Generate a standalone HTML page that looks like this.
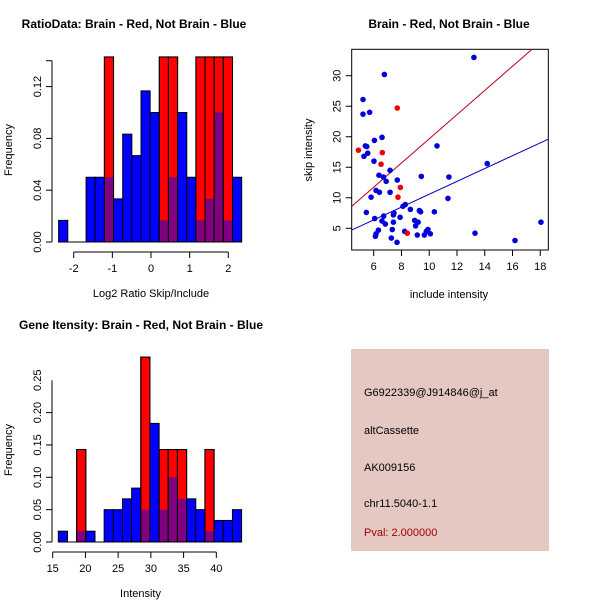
<!DOCTYPE html>
<html><head><meta charset="utf-8"><style>
html,body{margin:0;padding:0;background:#fff}
svg{display:block;font-family:"Liberation Sans",sans-serif}
</style></head><body>
<svg id="s" width="600" height="600" xmlns="http://www.w3.org/2000/svg">
<rect width="600" height="600" fill="#fff"/>
<text x="134" y="28" font-size="12" font-weight="bold" text-anchor="middle">RatioData: Brain - Red, Not Brain - Blue</text>
<text x="449" y="28" font-size="12" font-weight="bold" text-anchor="middle">Brain - Red, Not Brain - Blue</text>
<text x="141" y="329" font-size="12" font-weight="bold" text-anchor="middle">Gene Itensity: Brain - Red, Not Brain - Blue</text>
<g id="g1"></g>
<g id="g2"></g>
<g id="g3"></g>
<g>
<rect x="351" y="349" width="198" height="202" fill="#e6c8c2"/>
<text x="364" y="396" font-size="11">G6922339@J914846@j_at</text>
<text x="364" y="434" font-size="11">altCassette</text>
<text x="364" y="471" font-size="11">AK009156</text>
<text x="364" y="507" font-size="11">chr11.5040-1.1</text>
<text x="364" y="536" font-size="11" fill="#a00000">Pval: 2.000000</text>
</g>
</svg>
<script>
// Ratio histogram data
const ratioStart=-2.39, ratioWidth=0.2368;
const ratioBlue=[0.0167,0,0,0.05,0.05,0.05,0.0333,0.0833,0.0667,0.1167,0.1,0.0167,0.05,0.1,0.05,0.0167,0.0333,0.1,0.0167,0.05];
const ratioRed=[0,0,0,0,0,0.1429,0,0,0,0,0,0.1429,0.1429,0,0,0.1429,0.1429,0.1429,0.1429,0];
const ratioXTicks=[-2,-1,0,1,2];
const ratioYTicks=[0.00,0.04,0.08,0.12];
// Intensity histogram data
const intStart=15.86, intWidth=1.40;
const intBlue=[0.0167,0,0.0167,0.0167,0,0.05,0.05,0.0667,0.0833,0.05,0.1833,0.05,0.1,0.0667,0.0667,0.05,0.0167,0.0333,0.0333,0.05];
const intRed=[0,0,0.1429,0,0,0,0,0,0,0.2857,0,0.1429,0.1429,0.1429,0,0,0.1429,0,0,0];
const intXTicks=[15,20,25,30,35,40];
const intYTicks=[0.00,0.05,0.10,0.15,0.20,0.25];
// Scatter data
const blueX=[13.22,6.77,5.23,5.71,5.23,6.6,6.05,5.4,5.5,10.56,5.57,5.3,6.02,14.18,7.18,6.38,6.7,9.43,11.42,7.7,6.9,6.17,6.41,7.18,5.81,11.35,8.28,8.11,8.64,9.29,9.38,10.37,5.47,7.46,7.42,6.72,7.9,6.07,8.95,9.2,6.6,6.84,7.42,9.02,9.91,9.79,8.23,7.34,6.34,6.17,6.12,7.27,9.14,9.65,10.08,7.68,13.3,16.18,18.05];
const blueY=[33.0,30.2,26.1,24.0,23.7,19.9,19.4,18.5,18.4,18.5,17.3,16.8,16.0,15.6,14.5,13.7,13.4,13.5,13.4,12.9,12.7,11.2,10.9,10.9,10.1,9.9,8.9,8.6,8.1,7.9,7.7,7.7,7.6,7.5,7.2,7.0,6.8,6.6,6.3,6.0,6.2,5.7,6.0,5.4,4.8,4.5,4.5,4.8,4.7,4.1,3.7,3.4,3.9,3.9,4.1,2.7,4.2,3.0,6.0];
const redX=[4.9,7.7,6.62,6.53,7.92,7.75,8.42];
const redY=[17.8,24.7,17.4,15.5,11.7,10.1,4.2];
const redFit=[-0.14,1.98];
const blueFit=[0.06,1.052];
const scXTicks=[6,8,10,12,14,16,18];
const scYTicks=[5,10,15,20,25,30];

const NS="http://www.w3.org/2000/svg";
function mk(parent,tag,attrs){const e=document.createElementNS(NS,tag);for(const k in attrs)e.setAttribute(k,attrs[k]);parent.appendChild(e);return e;}
function fmt2(v){return v.toFixed(2);}

function hist(g,start,width,blue,red,xs,ys,xT,yT,yLabels,xTitle,titleY,axX,axY,lastTick){
  // axes
  mk(g,'line',{x1:axX,y1:ys(yT[0]),x2:axX,y2:ys(lastTick),stroke:'#000'});
  for(const t of yT.concat([lastTick])){
    if(t===lastTick&&yT.indexOf(t)>=0)continue;
    const tk=mk(g,'line',{x1:axX-6,y1:ys(t),x2:axX,y2:ys(t),stroke:'#000'});
    
    
  }
  for(const t of yT){
    const tx=mk(g,'text',{x:0,y:0,'font-size':11,'text-anchor':'middle',transform:`translate(${axX-11},${ys(t)}) rotate(-90)`});
    tx.textContent=fmt2(t);
    
    
  }
  mk(g,'line',{x1:xs(xT[0]),y1:axY,x2:xs(xT[xT.length-1]),y2:axY,stroke:'#000'});
  for(const t of xT){
    const tk=mk(g,'line',{x1:xs(t),y1:axY,x2:xs(t),y2:axY+6,stroke:'#000'});
    
    
    const tx=mk(g,'text',{x:xs(t),y:axY+20,'font-size':11,'text-anchor':'middle'});
    tx.textContent=t;
    
    
  }
  const xl=mk(g,'text',{x:xs((xT[0]+xT[xT.length-1])/2)+ (xTitle.x||0),y:axY+45,'font-size':11,'text-anchor':'middle'});
  xl.textContent=xTitle.t;
  
  
  const yl=mk(g,'text',{x:0,y:0,'font-size':11,'text-anchor':'middle',transform:`translate(12,${titleY}) rotate(-90)`});
  yl.textContent='Frequency';
  
  
  const base=ys(0);
  mk(g,'line',{x1:xs(start),y1:base,x2:xs(start+width*blue.length),y2:base,stroke:'#000'});
  for(let i=0;i<blue.length;i++){
    const x0=xs(start+i*width),x1=xs(start+(i+1)*width);
    if(blue[i]>0){
      const r=mk(g,'rect',{x:x0,y:ys(blue[i]),width:x1-x0,height:base-ys(blue[i]),fill:'#0000ff',stroke:'#000','stroke-width':1});
      
      
    }
    if(red[i]>0){
      const r=mk(g,'rect',{x:x0,y:ys(red[i]),width:x1-x0,height:base-ys(red[i]),fill:'#ff0000',stroke:'#000','stroke-width':1});
      
      
      const m=Math.min(red[i],blue[i]);
      if(m>0){
        const p=mk(g,'rect',{x:x0+0.5,y:ys(m),width:x1-x0-1,height:base-ys(m)-0.5,fill:'#800080',stroke:'none'});
        
        
        mk(g,'rect',{x:x0,y:ys(red[i]),width:x1-x0,height:base-ys(red[i]),fill:'none',stroke:'#000','stroke-width':1});
      }
    }
  }
}

// Ratio histogram
{
  const g=document.getElementById('g1');
  const xs=v=>151+v*38.65;
  const ys=v=>242-v*1295;
  hist(g,ratioStart,ratioWidth,ratioBlue,ratioRed,xs,ys,ratioXTicks,ratioYTicks,null,{t:'Log2 Ratio Skip/Include'},150,52,252,0.14);
}
// Intensity histogram
{
  const g=document.getElementById('g3');
  const xs=v=>52.7+(v-15)*6.545;
  const ys=v=>542-v*647;
  hist(g,intStart,intWidth,intBlue,intRed,xs,ys,intXTicks,intYTicks,null,{t:'Intensity',x:6},450,52,552,0.25);
}
// Scatter
{
  const g=document.getElementById('g2');
  const xs=v=>373.7+(v-6)*13.88;
  const ys=v=>228.3-(v-5)*6.104;
  const L=351.7,R=548.3,T=49.3,B=250;
  mk(g,'rect',{x:L,y:T,width:R-L,height:B-T,fill:'none',stroke:'#000'});
  for(const t of scXTicks){
    const tk=mk(g,'line',{x1:xs(t),y1:B,x2:xs(t),y2:B+6,stroke:'#000'});
    
    
    const tx=mk(g,'text',{x:xs(t),y:B+20,'font-size':11,'text-anchor':'middle'});
    tx.textContent=t;
    
    
  }
  for(const t of scYTicks){
    const tk=mk(g,'line',{x1:L-6,y1:ys(t),x2:L,y2:ys(t),stroke:'#000'});
    
    
    const tx=mk(g,'text',{x:0,y:0,'font-size':11,'text-anchor':'middle',transform:`translate(${L-11},${ys(t)}) rotate(-90)`});
    tx.textContent=t;
    
    
  }
  const xl=mk(g,'text',{x:449,y:298,'font-size':11,'text-anchor':'middle'});
  xl.textContent='include intensity';
  
  
  const yl=mk(g,'text',{x:0,y:0,'font-size':11,'text-anchor':'middle',transform:'translate(312,150) rotate(-90)'});
  yl.textContent='skip intensity';
  
  
  mk(g,'clipPath',{id:'cp'}).appendChild(document.createElementNS(NS,'rect'));
  const cr=g.querySelector('#cp rect');cr.setAttribute('x',L);cr.setAttribute('y',T);cr.setAttribute('width',R-L);cr.setAttribute('height',B-T);
  const x0=(L-373.7)/13.88+6,x1=(R-373.7)/13.88+6;
  const rl=mk(g,'line',{x1:xs(x0),y1:ys(redFit[0]+redFit[1]*x0),x2:xs(x1),y2:ys(redFit[0]+redFit[1]*x1),stroke:'#c00020','clip-path':'url(#cp)'});
  
  
  const bl=mk(g,'line',{x1:xs(x0),y1:ys(blueFit[0]+blueFit[1]*x0),x2:xs(x1),y2:ys(blueFit[0]+blueFit[1]*x1),stroke:'#0000c0','clip-path':'url(#cp)'});
  
  
  for(let i=0;i<blueX.length;i++){
    const c=mk(g,'circle',{cx:xs(blueX[i]),cy:ys(blueY[i]),r:2.8,fill:'#0000dd'});
    
    
  }
  for(let i=0;i<redX.length;i++){
    const c=mk(g,'circle',{cx:xs(redX[i]),cy:ys(redY[i]),r:2.8,fill:'#ee0000'});
    
    
  }
}
</script>
</body></html>
